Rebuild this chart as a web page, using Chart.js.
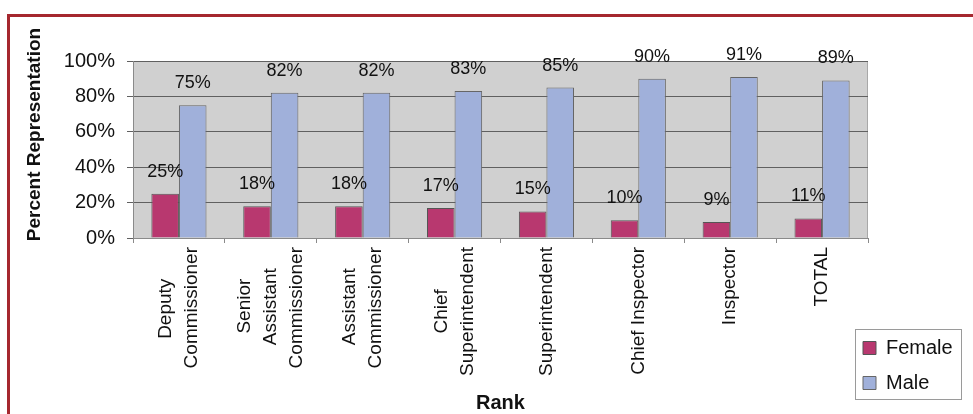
<!DOCTYPE html>
<html>
<head>
<meta charset="utf-8">
<script src="https://cdn.jsdelivr.net/npm/chart.js@4.4.1/dist/chart.umd.min.js"></script>
<style>
  html, body { margin: 0; padding: 0; background: #fff; }
  #wrap { position: relative; width: 973px; height: 414px; }
  #frame { position: absolute; left: 7px; top: 14px; width: 990px; height: 420px;
           border-top: 3px solid #a5282f; border-left: 3px solid #a5282f; pointer-events: none; }
</style>
</head>
<body>
<div id="wrap">
  <canvas id="chart" width="973" height="414"></canvas>
  <div id="frame"></div>
</div>
<script>
/* Percent representation by rank — clustered bars, Excel-ish styling */
const C = { female: "#b8386f", male: "#a0b0da", plot: "#d0d0d0", grid: "#606060", axis: "#8a8a8a", text: "#111" };
const FONT = "'Liberation Sans', Arial, sans-serif";

const ranks = [
  ["Deputy", "Commissioner"],
  ["Senior", "Assistant", "Commissioner"],
  ["Assistant", "Commissioner"],
  ["Chief", "Superintendent"],
  ["Superintendent"],
  ["Chief Inspector"],
  ["Inspector"],
  ["TOTAL"],
];
const female = [25, 18, 18, 17, 15, 10, 9, 11];
const male = [75, 82, 82, 83, 85, 90, 91, 89];
const yTicks = [0, 20, 40, 60, 80, 100];

const TICK_FONT = 19, TICK_LH = 1.37;

// centre each line of a rotated multi-line label (Chart.js right-aligns them)
const mctx = document.createElement("canvas").getContext("2d");
mctx.font = TICK_FONT + "px " + FONT;
const spaceW = mctx.measureText(" ").width;
function centreLines(lines) {
  if (!Array.isArray(lines)) return lines;
  const ws = lines.map((l) => mctx.measureText(l).width);
  const M = Math.max(...ws);
  return lines.map((l, i) => l + " ".repeat(Math.round((M - ws[i]) / 2 / spaceW)));
}

const plotBg = {
  id: "plotBg",
  beforeDraw(chart) {
    const { ctx, chartArea: a } = chart;
    ctx.save();
    ctx.fillStyle = C.plot;
    ctx.fillRect(a.left, a.top, a.right - a.left, a.bottom - a.top);
    ctx.strokeStyle = "#a8a8a8";
    ctx.lineWidth = 1;
    ctx.beginPath();
    ctx.moveTo(a.left, a.top + 0.5); ctx.lineTo(a.right - 0.5, a.top + 0.5); ctx.lineTo(a.right - 0.5, a.bottom);
    ctx.stroke();
    ctx.restore();

    // multi-line rotated labels: centre the whole block on its category
    const x = chart.scales.x;
    x.getLabelItems(a).forEach((it) => {
      if (it._centred) return;
      const n = Array.isArray(it.label) ? it.label.length : 1;
      it.textOffset -= (n - 1) * it.font.lineHeight / 2;
      it._centred = true;
    });

    // y title sits a bit above the axis middle in the original
    const y = chart.scales.y;
    if (!y._titleShifted) {
      const draw = y.drawTitle.bind(y);
      y.drawTitle = function () { ctx.save(); ctx.translate(0, -15); draw(); ctx.restore(); };
      y._titleShifted = true;
    }
  },
};

const valueLabels = {
  id: "valueLabels",
  afterDatasetsDraw(chart) {
    const { ctx } = chart;
    ctx.save();
    ctx.font = "18px " + FONT;
    ctx.fillStyle = C.text;
    ctx.textAlign = "center";
    ctx.textBaseline = "middle";
    chart.data.datasets.forEach((ds, i) => {
      chart.getDatasetMeta(i).data.forEach((bar, j) => {
        ctx.fillText(ds.data[j] + "%", bar.x, bar.y - 22);
      });
    });
    ctx.restore();
  },
};

// nudge the legend into the lower-right corner and give it a box
const legendBox = {
  id: "legendBox",
  afterLayout(chart) {
    const lg = chart.legend;
    lg.left -= 20; lg.right -= 20;
    lg.bottom -= 6;
  },
  afterDraw(chart) {
    const lg = chart.legend, ctx = chart.ctx;
    ctx.save();
    ctx.strokeStyle = "#9a9a9a";
    ctx.lineWidth = 1;
    ctx.strokeRect(lg.left + 7.5, lg.bottom - 78.5, 106, 70);
    ctx.restore();
  },
};

Chart.defaults.font.family = FONT;
Chart.defaults.color = C.text;

new Chart(document.getElementById("chart"), {
  type: "bar",
  data: {
    labels: ranks,
    datasets: [
      { label: "Female", data: female, backgroundColor: C.female, borderColor: "#555", borderWidth: 1 },
      { label: "Male", data: male, backgroundColor: C.male, borderColor: "#666", borderWidth: 1 },
    ],
  },
  options: {
    responsive: false, animation: false,
    layout: { padding: { top: 61, left: 0, right: 0, bottom: 0 } },
    datasets: { bar: { categoryPercentage: 0.6, barPercentage: 1 } },
    plugins: {
      tooltip: { enabled: false },
      legend: {
        position: "right", align: "end", maxWidth: 105,
        labels: { boxWidth: 13, boxHeight: 13, padding: 15, color: C.text, font: { size: 20 } },
      },
    },
    scales: {
      x: {
        grid: { drawOnChartArea: false, offset: true, tickLength: 5, color: C.axis },
        border: { color: C.axis },
        ticks: { autoSkip: false, maxRotation: 90, minRotation: 90, padding: 4, color: C.text,
          font: { size: TICK_FONT, lineHeight: TICK_LH },
          callback(v) { return centreLines(this.getLabelForValue(v)); } },
        title: { display: true, text: "Rank", color: C.text, font: { size: 20, weight: "bold", lineHeight: 1.1 },
          padding: { top: 0, bottom: 0 } },
        afterFit(s) { s.height = 176; },
      },
      y: {
        min: 0, max: 100,
        afterBuildTicks(s) { s.ticks = yTicks.map((v) => ({ value: v })); },
        grid: { color: C.grid, tickLength: 6 },
        border: { color: C.axis },
        ticks: { padding: 12, color: C.text, font: { size: 20 }, callback: (v) => v + "%" },
        title: { display: true, text: "Percent Representation", color: C.text,
          font: { size: 19, weight: "bold", lineHeight: 1.2 }, padding: { top: 23, bottom: 0 } },
        afterFit(s) { s.width = 133; },
      },
    },
  },
  plugins: [plotBg, valueLabels, legendBox],
});
</script>
</body>
</html>
